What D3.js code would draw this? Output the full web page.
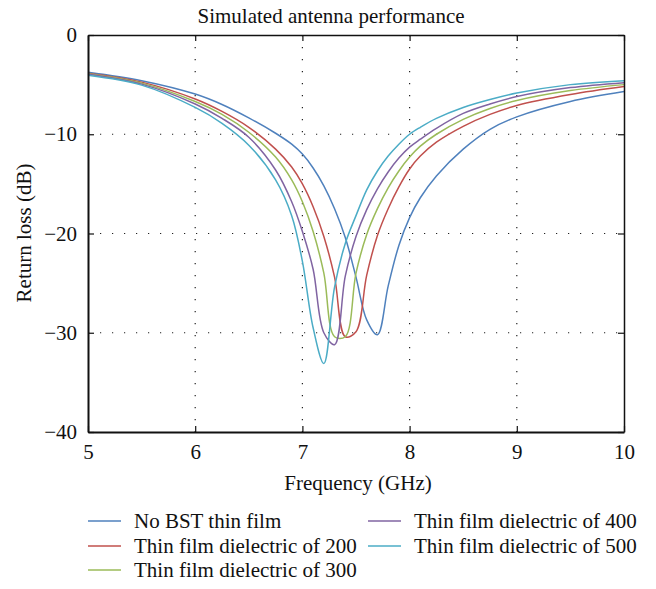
<!DOCTYPE html>
<html>
<head>
<meta charset="utf-8">
<script src="https://cdn.jsdelivr.net/npm/d3@7"></script>
<style>
	body { margin: 0; background: #fff; }
	svg { font-family: "Liberation Serif", "DejaVu Serif", serif; }
</style>
</head>
<body>
<script>
// frequency grid (GHz), finer around the resonances
var freq = [5, 5.5, 6, 6.25, 6.5, 6.75, 6.9, 7.0, 7.1, 7.2, 7.3, 7.4, 7.5, 7.6, 7.7, 7.8, 7.9, 8.0, 8.1, 8.25, 8.5, 8.75, 9, 9.5, 10];

// return loss (dB)
var noBST   = [-3.75, -4.6, -5.95, -7.0, -8.35, -9.9, -11.0, -12.0, -13.4, -15.2, -17.5, -20.4, -24.4, -28.7, -30.2, -25.3, -21.2, -18.4, -16.4, -14.2, -11.5, -9.5, -8.25, -6.7, -5.7];
var film200 = [-3.85, -4.75, -6.45, -7.7, -9.3, -11.5, -13.3, -15.0, -17.3, -20.3, -24.4, -30.4, -29.9, -24.2, -20.2, -17.5, -15.3, -13.5, -12.2, -10.8, -9.2, -8.0, -7.1, -6.0, -5.2];
var film300 = [-3.9, -4.85, -6.7, -8.0, -9.8, -12.3, -14.6, -16.8, -19.8, -24.0, -30.4, -30.4, -24.0, -20.1, -17.5, -15.4, -13.7, -12.3, -11.2, -10.0, -8.5, -7.4, -6.6, -5.6, -5.0];
var film400 = [-3.95, -4.95, -6.95, -8.4, -10.3, -13.6, -16.8, -19.8, -23.6, -30.0, -31.2, -24.3, -20.3, -17.6, -15.5, -13.8, -12.4, -11.3, -10.5, -9.4, -7.9, -6.95, -6.2, -5.3, -4.8];
var film500 = [-4.05, -5.05, -7.3, -8.9, -11.1, -14.6, -18.2, -22.8, -29.5, -33.1, -25.4, -21.0, -18.2, -15.6, -13.7, -12.2, -11.0, -10.0, -9.3, -8.4, -7.3, -6.5, -5.85, -5.0, -4.6];

var seriesNames = ["No BST thin film", "Thin film dielectric of 200", "Thin film dielectric of 300", "Thin film dielectric of 400", "Thin film dielectric of 500"];
var seriesValues = [noBST, film200, film300, film400, film500];
var colors = ["#4F81BD", "#C0504D", "#9BBB59", "#8064A2", "#4BACC6"];

var xTicks = [5, 6, 7, 8, 9, 10];
var yTicks = [0, -10, -20, -30, -40];

var width = 656, height = 589;
var plot = {left: 88, right: 624, top: 35, bottom: 432};
var fontSize = 21;

var svg = d3.select("body").append("svg").attr("width", width).attr("height", height);

var x = d3.scaleLinear().domain([5, 10]).range([plot.left, plot.right]);
var y = d3.scaleLinear().domain([-40, 0]).range([plot.bottom, plot.top]);

//	dotted grid
svg.append("g").selectAll("line").data(xTicks.slice(1, -1)).enter().append("line")
	.attr("x1", function(d){ return x(d); }).attr("x2", function(d){ return x(d); })
	.attr("y1", plot.top).attr("y2", plot.bottom)
	.attr("stroke", "#222").attr("stroke-width", 1.2).attr("stroke-dasharray", "1.2,10.8");
svg.append("g").selectAll("line").data(yTicks.slice(1, -1)).enter().append("line")
	.attr("y1", function(d){ return y(d); }).attr("y2", function(d){ return y(d); })
	.attr("x1", plot.left).attr("x2", plot.right)
	.attr("stroke", "#222").attr("stroke-width", 1.2).attr("stroke-dasharray", "1.2,10.8");

//	curves
var line = d3.line()
	.x(function(d, i){ return x(freq[i]); })
	.y(function(d){ return y(d); })
	.curve(d3.curveCatmullRom.alpha(0.5));

svg.append("g").selectAll("path").data(seriesValues).enter().append("path")
	.attr("d", line)
	.attr("fill", "none")
	.attr("stroke", function(d, i){ return colors[i]; })
	.attr("stroke-width", 1.5);

//	frame and axes (ticks inside)
var noLabel = function(){ return ""; };
var xAxis = d3.axisBottom(x).tickValues(xTicks).tickSizeInner(-6).tickSizeOuter(0).tickPadding(12).tickFormat(d3.format("d"));
var yAxis = d3.axisLeft(y).tickValues(yTicks).tickSizeInner(-6).tickSizeOuter(0).tickPadding(11)
	.tickFormat(function(d){ return d < 0 ? "\u2212" + Math.abs(d) : String(d); });
var xTop = d3.axisTop(x).tickValues(xTicks).tickSizeInner(-6).tickSizeOuter(0).tickFormat(noLabel);
var yRight = d3.axisRight(y).tickValues(yTicks).tickSizeInner(-6).tickSizeOuter(0).tickFormat(noLabel);

function styleAxis(g, w) {
	g.select(".domain").attr("stroke", "#111").attr("stroke-width", w);
	g.selectAll(".tick line").attr("stroke", "#111").attr("stroke-width", 1.2);
	g.selectAll("text").attr("font-size", fontSize).attr("fill", "#111").attr("font-family", "Liberation Serif, serif");
}

svg.append("g").attr("transform", "translate(0," + plot.top + ")").call(xTop).call(styleAxis, 1.5);
svg.append("g").attr("transform", "translate(" + plot.right + ",0)").call(yRight).call(styleAxis, 1.5);
svg.append("g").attr("transform", "translate(0," + plot.bottom + ")").call(xAxis).call(styleAxis, 2);
svg.append("g").attr("transform", "translate(" + plot.left + ",0)").call(yAxis).call(styleAxis, 2);

//	titles
svg.append("text").attr("x", 331).attr("y", 23).attr("text-anchor", "middle")
	.attr("font-size", fontSize).attr("fill", "#111").text("Simulated antenna performance");
svg.append("text").attr("x", 358).attr("y", 490).attr("text-anchor", "middle")
	.attr("font-size", fontSize).attr("fill", "#111").text("Frequency (GHz)");
svg.append("text").attr("transform", "translate(31,233) rotate(-90)").attr("text-anchor", "middle")
	.attr("font-size", fontSize).attr("fill", "#111").text("Return loss (dB)");

//	legend, two columns
var legendPos = [[0, 0], [0, 1], [0, 2], [1, 0], [1, 1]];
var colX = [88, 368], rowY = [521, 546, 570];
var legend = svg.append("g").selectAll("g").data(seriesNames).enter().append("g")
	.attr("transform", function(d, i){ return "translate(" + colX[legendPos[i][0]] + "," + rowY[legendPos[i][1]] + ")"; });
legend.append("line").attr("x1", 0).attr("x2", 33).attr("y1", 0).attr("y2", 0)
	.attr("stroke", function(d, i){ return colors[i]; }).attr("stroke-width", 1.5);
legend.append("text").attr("x", 46).attr("y", 7).attr("font-size", fontSize).attr("fill", "#111").text(function(d){ return d; });
</script>
</body>
</html>
